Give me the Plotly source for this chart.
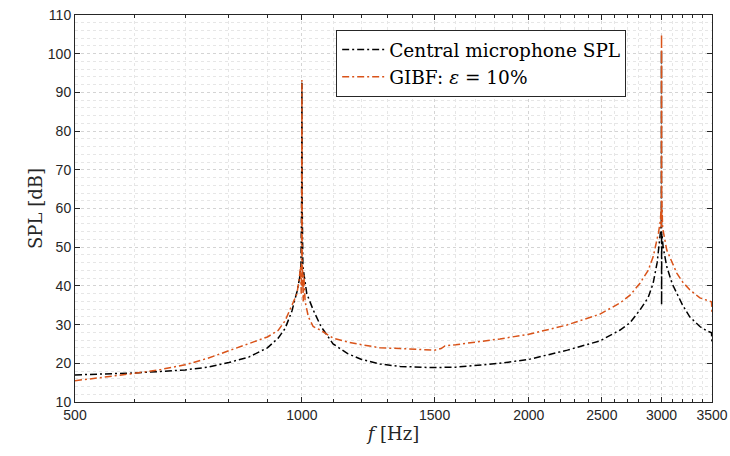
import plotly.graph_objects as go

# Central microphone SPL
f_mic = [500, 550, 600, 650, 700, 750, 800, 850, 900, 930, 950, 970, 985, 993, 997, 999,
         1000, 1001, 1003, 1008, 1015, 1035, 1060, 1100, 1150, 1200, 1270, 1350, 1480, 1600,
         1700, 1830, 2000, 2250, 2486, 2643, 2725, 2809, 2880, 2924, 2960, 2980, 2992, 2998,
         2999.5, 3000.5, 3002, 3015, 3048, 3100, 3143, 3200, 3270, 3373, 3450, 3495, 3500]
spl_mic = [17.0, 17.2, 17.5, 17.9, 18.3, 19.0, 20.2, 21.6, 24.0, 26.5, 29.0, 33.5, 38.5, 42.0, 45.0, 60.0,
           92.5, 60.0, 45.0, 42.0, 38.0, 33.8, 29.5, 25.0, 22.5, 21.0, 19.8, 19.2, 18.9, 19.0,
           19.4, 20.0, 21.0, 23.4, 25.8, 28.6, 30.5, 33.8, 37.0, 40.7, 46.0, 51.0, 54.5, 56.0,
           101.0, 35.0, 53.7, 50.0, 45.0, 40.5, 38.0, 35.0, 32.0, 29.5, 28.3, 27.9, 25.0]

# GIBF eps = 10%
f_gibf = [500, 550, 600, 650, 700, 750, 800, 850, 900, 930, 950, 973, 985, 992, 996, 998, 999,
          1000, 1001, 1002, 1004, 1006, 1010, 1020, 1035, 1060, 1100, 1150, 1200, 1270, 1350,
          1450, 1500, 1530, 1548, 1600, 1700, 1831, 2000, 2247, 2486, 2643, 2725, 2809, 2880,
          2924, 2972, 2990, 2996, 2998, 2999, 3000, 3001, 3003, 3010, 3048, 3100, 3143, 3200,
          3270, 3373, 3450, 3495, 3500]
spl_gibf = [15.5, 16.4, 17.4, 18.4, 19.6, 21.3, 23.3, 25.0, 26.8, 28.5, 31.0, 35.6, 38.0, 42.0, 45.0, 38.0, 47.0,
            93.2, 40.0, 45.0, 36.0, 42.8, 35.9, 32.0, 29.5, 28.5, 26.5, 25.5, 24.8, 24.0, 23.8,
            23.5, 23.4, 23.8, 24.5, 24.8, 25.4, 26.3, 27.5, 29.9, 32.7, 35.6, 37.6, 40.7, 44.0,
            47.5, 53.7, 57.0, 60.0, 55.0, 62.0, 105.0, 58.0, 62.0, 55.0, 49.3, 46.0, 43.3, 41.0,
            39.0, 36.9, 36.2, 35.9, 33.0]

x_ticks = [500, 1000, 1500, 2000, 2500, 3000, 3500]
x_minor = [v for v in range(600, 3500, 100) if v not in x_ticks]
y_ticks = list(range(10, 111, 10))

serif = "DejaVu Serif, Liberation Serif"
dash = "7px,3px,2px,3px"
fig = go.Figure()
fig.add_trace(go.Scatter(x=f_mic, y=spl_mic, mode="lines", name="Central microphone SPL",
                         line=dict(color="black", width=1.5, dash=dash)))
fig.add_trace(go.Scatter(x=f_gibf, y=spl_gibf, mode="lines", name="GIBF: <i>ε</i> = 10%",
                         line=dict(color="#D95319", width=1.5, dash=dash)))

axis_common = dict(showline=True, linecolor="#262626", linewidth=1, mirror="ticks",
                   ticks="inside", ticklen=5, tickcolor="#262626",
                   tickfont=dict(family="Liberation Sans, Arial", size=14, color="#262626"),
                   showgrid=True, gridcolor="#d4d4d4", gridwidth=1, griddash="dot",
                   zeroline=False, automargin=False)

fig.update_xaxes(type="log", range=[2.69897, 3.544068], tickmode="array", tickvals=x_ticks,
                 ticktext=[str(v) for v in x_ticks],
                 minor=dict(tickmode="array", tickvals=x_minor, ticks="inside", ticklen=3,
                            tickcolor="#262626", showgrid=True, gridcolor="#e6e6e6", griddash="dot"),
                 title=dict(text="<i>f</i> [Hz]", font=dict(family=serif, size=18, color="#262626"),
                            standoff=2),
                 **axis_common)
fig.update_yaxes(range=[10, 110], tickmode="array", tickvals=y_ticks,
                 minor=dict(dtick=2, tick0=10, ticks="", showgrid=True, gridcolor="#e6e6e6", griddash="dot"),
                 title=dict(text="SPL [dB]", font=dict(family=serif, size=18, color="#262626"),
                            standoff=0),
                 **axis_common)

fig.update_layout(
    width=730, height=456,
    margin=dict(l=75, r=18, t=15, b=54),
    plot_bgcolor="white", paper_bgcolor="white",
    legend=dict(x=0.41, y=0.961, xanchor="left", yanchor="top",
                bgcolor="white", bordercolor="#262626", borderwidth=1,
                font=dict(family=serif, size=18.5, color="black"),
                tracegroupgap=0, itemwidth=42),
    showlegend=True,
)

fig.write_html("out.html")
